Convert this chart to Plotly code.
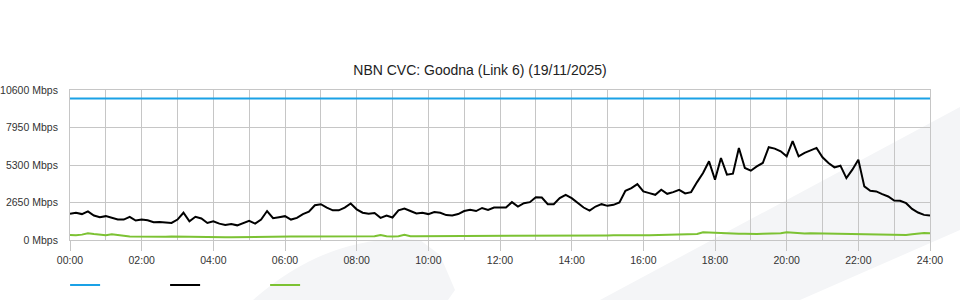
import plotly.graph_objects as go

# ---- data (10-minute samples, 00:00 .. 24:00) ----
STEP_MIN = 10
used_mbps = [
    1855, 1927, 1831, 2024, 1734, 1614, 1686, 1566, 1445, 1445, 1638, 1373,
    1445, 1397, 1253, 1277, 1253, 1205, 1445, 1927, 1325, 1638, 1518, 1205,
    1325, 1156, 1060, 1132, 1036, 1205, 1349, 1156, 1445, 2048, 1542, 1614,
    1686, 1445, 1566, 1831, 2000, 2457, 2529, 2289, 2096, 2096, 2289, 2578,
    2168, 1927, 1855, 1903, 1566, 1734, 1590, 2096, 2216, 2048, 1879, 1927,
    1831, 1975, 1927, 1759, 1734, 1831, 2048, 2144, 2048, 2264, 2120, 2289,
    2300, 2295, 2674, 2366, 2603, 2674, 3028, 3005, 2532, 2532, 2958, 3194,
    2958, 2603, 2295, 2082, 2366, 2532, 2413, 2484, 2650, 3478, 3667, 3951,
    3431, 3312, 3194, 3549, 3265, 3383, 3549, 3289, 3383, 4093, 4732, 5560,
    4259, 5797, 4614, 4685, 6507, 5087, 4898, 5205, 5442, 6554, 6459, 6270,
    5915, 6980, 5915, 6152, 6317, 6507, 5844, 5442, 5134, 5253, 4377, 4969,
    5678, 3786, 3478, 3431, 3241, 3076, 2792, 2768, 2603, 2200, 1940, 1775,
    1727,
]
upload_mbps = [
    360, 330, 380, 480, 420, 380, 340, 400, 330, 300, 250, 240,
    240, 250, 240, 240, 230, 240, 240, 250, 240, 240, 240, 240,
    240, 230, 200, 190, 200, 210, 230, 220, 240, 230, 240, 230,
    240, 250, 240, 240, 250, 240, 250, 240, 250, 250, 250, 250,
    250, 250, 250, 260, 360, 260, 250, 270, 370, 260, 270, 270,
    270, 270, 270, 270, 270, 270, 270, 270, 270, 280, 270, 280,
    300, 280, 300, 290, 300, 300, 310, 300, 320, 310, 310, 320,
    300, 310, 300, 300, 310, 300, 320, 330, 320, 320, 330, 330,
    330, 330, 340, 340, 350, 350, 400, 400, 400, 420, 540, 520,
    480, 470, 460, 440, 450, 440, 420, 430, 440, 450, 470, 480,
    544, 500, 470, 460, 470, 460, 470, 450, 440, 460, 440, 430,
    400, 410, 400, 390, 360, 340, 350, 340, 360, 400, 470, 497,
    480,
]
capacity_mbps = 10000
tick_hours = [0, 2, 4, 6, 8, 10, 12, 14, 16, 18, 20, 22, 24]
tick_labels = ["00:00", "02:00", "04:00", "06:00", "08:00", "10:00", "12:00",
               "14:00", "16:00", "18:00", "20:00", "22:00", "24:00"]
y_ticks = [0, 2650, 5300, 7950, 10600]
y_labels = ["0 Mbps", "2650 Mbps", "5300 Mbps", "7950 Mbps", "10600 Mbps"]
title_text = "NBN CVC: Goodna (Link 6) (19/11/2025)"

hours = [i * STEP_MIN / 60 for i in range(len(used_mbps))]

GRID = "#c6c6c6"
FONT = "Arial, Liberation Sans, sans-serif"
TICK_SIZE = 10.5

fig = go.Figure()
fig.add_trace(go.Scatter(x=[hours[0], hours[-1]], y=[capacity_mbps, capacity_mbps],
                         mode="lines", name="", line=dict(color="#1aa1e6", width=2)))
fig.add_trace(go.Scatter(x=hours, y=used_mbps, mode="lines", name="",
                         line=dict(color="#000000", width=2)))
fig.add_trace(go.Scatter(x=hours, y=upload_mbps, mode="lines", name="",
                         line=dict(color="#7cc233", width=2)))

# faint background watermark shapes (paper coords relative to plot area)
def px(xp, yp):
    return (xp - 70) / 860, (240 - yp) / 150

p = [px(253, 300), px(330, 232), px(420, 240), px(440, 255), px(455, 290), px(448, 300)]
blob = (f"M {p[0][0]},{p[0][1]} Q {p[1][0]},{p[1][1]} {p[2][0]},{p[2][1]} "
        f"L {p[3][0]},{p[3][1]} L {p[4][0]},{p[4][1]} L {p[5][0]},{p[5][1]} Z")
b = [px(600, 300), px(960, 107), px(960, 230), px(800, 300)]
band = "M " + " L ".join(f"{x},{y}" for x, y in b) + " Z"

shapes = [
    dict(type="path", xref="paper", yref="paper", path=blob, layer="below",
         fillcolor="#f4f5f7", line=dict(width=0)),
    dict(type="path", xref="paper", yref="paper", path=band, layer="below",
         fillcolor="#f4f5f7", line=dict(width=0)),
]

fig.update_layout(
    width=960, height=300,
    margin=dict(l=70, r=30, t=90, b=60, autoexpand=False),
    paper_bgcolor="white", plot_bgcolor="rgba(0,0,0,0)",
    font=dict(family=FONT, size=TICK_SIZE, color="#333333"),
    title=dict(text=title_text, x=0.5, xanchor="center", y=1 - 70 / 300,
               yanchor="middle", yref="container",
               font=dict(family=FONT, size=14, color="#222222")),
    shapes=shapes,
    showlegend=True,
    legend=dict(orientation="h", x=-0.0057, xanchor="left", y=-0.3, yanchor="middle",
                entrywidth=55, entrywidthmode="pixels", itemwidth=30,
                font=dict(size=TICK_SIZE), bgcolor="rgba(0,0,0,0)"),
    hovermode=False,
)
fig.update_xaxes(range=[0, 24], tickmode="array", tickvals=tick_hours, ticktext=tick_labels,
                 showgrid=True, gridcolor=GRID, gridwidth=1, automargin=False,
                 minor=dict(dtick=1, showgrid=True, gridcolor=GRID, gridwidth=1),
                 ticks="outside", ticklen=10, tickcolor=GRID, tickwidth=1,
                 showline=True, linecolor=GRID, mirror=True, zeroline=False,
                 tickfont=dict(size=TICK_SIZE, color="#333333"))
fig.update_yaxes(range=[0, 10600], tickmode="array", tickvals=y_ticks, ticktext=y_labels,
                 showgrid=True, gridcolor=GRID, gridwidth=1, ticks="", automargin=False,
                 ticklabelstandoff=9,
                 showline=True, linecolor=GRID, mirror=True, zeroline=False,
                 tickfont=dict(size=TICK_SIZE, color="#333333"))

fig.write_html("out.html")
